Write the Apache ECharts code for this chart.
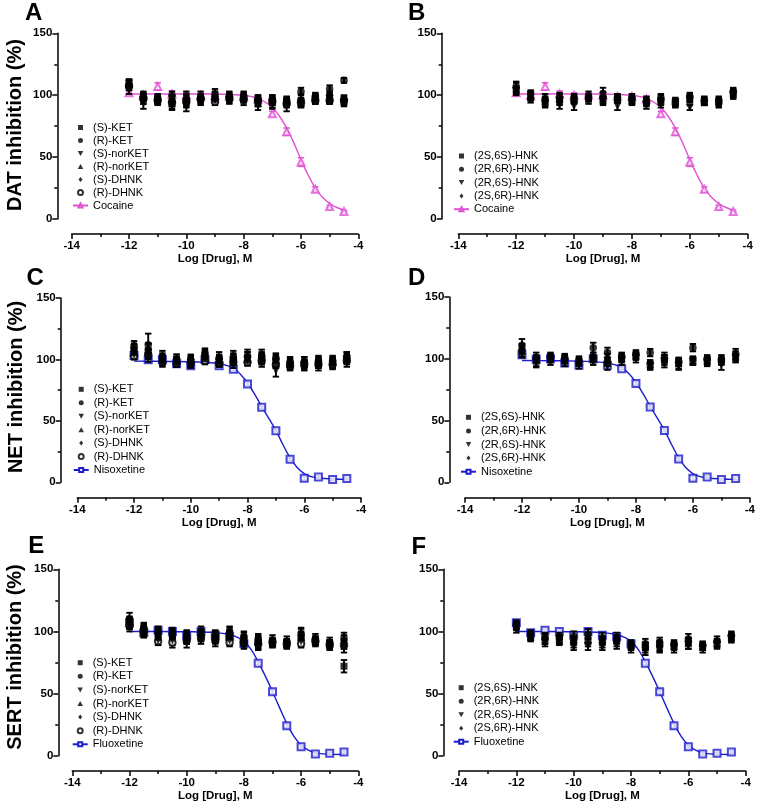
<!DOCTYPE html>
<html><head><meta charset="utf-8">
<script src="https://cdn.jsdelivr.net/npm/echarts@6/dist/echarts.min.js"></script>
<style>html,body{margin:0;padding:0;background:#fff}#c{width:758px;height:803px}</style>
</head><body><div id="c"></div>
<script>
// ---------- data ----------
const logDose = [-12, -11.5, -11, -10.5, -10, -9.5, -9, -8.5, -8, -7.5, -7, -6.5, -6, -5.5, -5, -4.5];
const ketNames = ['(S)-KET', '(R)-KET', '(S)-norKET', '(R)-norKET', '(S)-DHNK', '(R)-DHNK'];
const hnkNames = ['(2S,6S)-HNK', '(2R,6R)-HNK', '(2R,6S)-HNK', '(2S,6R)-HNK'];
const yTitles = ['DAT inhibition (%)', 'NET inhibition (%)', 'SERT inhibition (%)'];
const panelLetters = ['A', 'B', 'C', 'D', 'E', 'F'];

// DAT - ketamine metabolites (A)
const datKet = [
  [110, 97, 95, 93, 96, 97, 97, 98, 97, 95, 94, 94, 93, 96, 96, 95],
  [108, 99, 97, 100, 94, 98, 101, 99, 99, 97, 97, 95, 103, 98, 105, 112],
  [104, 93, 96, 92, 91, 95, 96, 96, 96, 92, 93, 93, 94, 97, 97, 94],
  [110, 100, 98, 97, 100, 100, 99, 100, 98, 94, 96, 95, 98, 98, 98, 97],
  [109, 96, 97, 95, 97, 96, 97, 97, 100, 97, 97, 94, 95, 99, 100, 97],
  [107, 98, 96, 94, 95, 97, 95, 98, 97, 96, 95, 93, 94, 96, 96, 96]
];
const datKetErr = [
  [3, 4, 3, 4, 5, 3, 3, 3, 3, 4, 4, 3, 3, 3, 3, 3],
  [4, 3, 3, 3, 4, 3, 4, 3, 3, 3, 3, 3, 3, 3, 3, 2],
  [3, 4, 3, 4, 4, 3, 3, 3, 4, 4, 4, 6, 3, 3, 3, 3],
  [2, 3, 3, 3, 3, 3, 4, 3, 3, 3, 3, 3, 3, 3, 3, 3],
  [3, 3, 2, 4, 3, 3, 3, 3, 3, 3, 3, 3, 3, 3, 3, 2],
  [3, 3, 3, 3, 3, 2, 3, 3, 3, 3, 3, 3, 3, 3, 3, 3]
];
// DAT - HNKs (B)
const datHnk = [
  [104, 99, 94, 95, 97, 97, 96, 97, 95, 94, 95, 94, 97, 94, 95, 101],
  [107, 97, 96, 98, 96, 98, 99, 98, 97, 95, 98, 93, 99, 95, 94, 103],
  [103, 100, 93, 92, 91, 96, 95, 91, 96, 92, 93, 94, 90, 95, 93, 100],
  [106, 101, 98, 99, 98, 100, 102, 98, 98, 96, 97, 95, 98, 96, 96, 102]
];
const datHnkErr = [
  [3, 3, 3, 3, 3, 2, 3, 3, 3, 3, 3, 3, 3, 2, 3, 3],
  [4, 3, 3, 3, 3, 3, 4, 3, 3, 3, 3, 3, 3, 3, 3, 3],
  [3, 3, 3, 3, 3, 3, 3, 3, 3, 3, 3, 3, 2, 3, 3, 3],
  [4, 3, 3, 3, 3, 3, 4, 3, 3, 3, 3, 3, 3, 3, 3, 3]
];
// NET - ketamine metabolites (C)
const netKet = [
  [108, 107, 100, 98, 98, 104, 99, 100, 101, 101, 99, 96, 96, 97, 97, 101],
  [111, 112, 102, 100, 99, 102, 101, 102, 103, 103, 101, 97, 98, 99, 99, 102],
  [104, 103, 98, 98, 97, 101, 98, 97, 99, 98, 91, 95, 95, 95, 96, 98],
  [106, 105, 99, 99, 98, 101, 98, 99, 100, 100, 97, 96, 97, 97, 98, 100],
  [109, 108, 101, 100, 100, 105, 100, 101, 102, 102, 100, 98, 98, 98, 98, 103],
  [103, 104, 98, 97, 97, 99, 97, 98, 98, 99, 96, 95, 96, 96, 96, 99]
];
const netKetErr = [
  [4, 6, 4, 4, 4, 4, 4, 4, 5, 4, 4, 4, 4, 4, 4, 4],
  [4, 9, 5, 4, 5, 5, 5, 5, 5, 5, 4, 4, 4, 4, 4, 4],
  [4, 5, 4, 4, 4, 4, 4, 4, 4, 4, 5, 4, 4, 4, 4, 4],
  [3, 4, 3, 3, 3, 4, 3, 3, 3, 4, 4, 3, 3, 3, 3, 3],
  [4, 5, 4, 4, 3, 4, 4, 4, 4, 4, 4, 4, 4, 4, 4, 3],
  [3, 4, 3, 3, 3, 3, 3, 3, 3, 3, 3, 3, 3, 3, 3, 3]
];
// NET - HNKs (D)
const netHnk = [
  [106, 98, 100, 99, 97, 100, 97, 100, 102, 95, 99, 96, 98, 98, 98, 101],
  [111, 101, 102, 101, 99, 109, 105, 102, 104, 105, 101, 98, 109, 100, 99, 104],
  [104, 97, 98, 97, 95, 98, 94, 98, 100, 94, 96, 94, 98, 97, 95, 100],
  [108, 100, 101, 100, 98, 102, 101, 101, 103, 96, 100, 97, 99, 99, 100, 103]
];
const netHnkErr = [
  [4, 4, 3, 3, 3, 3, 3, 3, 3, 3, 4, 4, 3, 3, 3, 3],
  [5, 4, 3, 3, 3, 4, 4, 3, 3, 3, 4, 3, 3, 3, 3, 4],
  [3, 4, 3, 3, 3, 3, 3, 3, 3, 3, 3, 3, 3, 3, 4, 3],
  [4, 3, 3, 3, 3, 3, 3, 3, 3, 3, 3, 3, 3, 3, 3, 3]
];
// SERT - ketamine metabolites (E)
const sertKet = [
  [108, 101, 99, 97, 95, 98, 95, 96, 93, 91, 91, 90, 95, 93, 90, 72],
  [110, 103, 100, 99, 97, 100, 97, 100, 96, 94, 93, 92, 98, 94, 91, 95],
  [104, 99, 93, 93, 91, 94, 92, 93, 90, 89, 90, 89, 92, 91, 88, 88],
  [106, 100, 96, 96, 94, 96, 94, 97, 92, 92, 91, 91, 96, 92, 90, 90],
  [107, 102, 98, 98, 96, 97, 96, 98, 95, 93, 92, 90, 97, 93, 90, 93],
  [105, 100, 92, 91, 93, 95, 93, 91, 91, 90, 91, 90, 90, 92, 89, 89]
];
const sertKetErr = [
  [4, 4, 4, 4, 4, 4, 4, 4, 4, 4, 3, 3, 4, 3, 3, 5],
  [5, 4, 4, 4, 4, 4, 4, 4, 4, 4, 4, 4, 5, 4, 4, 4],
  [4, 4, 4, 4, 4, 4, 4, 4, 4, 4, 3, 3, 4, 3, 3, 5],
  [4, 4, 3, 4, 4, 4, 3, 4, 4, 4, 3, 3, 4, 3, 3, 4],
  [4, 4, 4, 4, 4, 4, 4, 5, 4, 4, 3, 3, 5, 3, 3, 4],
  [3, 4, 3, 4, 3, 3, 3, 3, 3, 4, 3, 3, 3, 3, 3, 3]
];
// SERT - HNKs (F)
const sertHnk = [
  [104, 95, 93, 92, 91, 92, 91, 92, 88, 87, 89, 88, 90, 88, 90, 95],
  [106, 98, 96, 96, 96, 98, 95, 95, 90, 90, 91, 90, 94, 89, 92, 97],
  [102, 96, 91, 93, 88, 88, 88, 89, 86, 84, 86, 86, 89, 86, 89, 94],
  [105, 97, 94, 94, 93, 95, 93, 94, 89, 88, 88, 89, 92, 88, 91, 96]
];
const sertHnkErr = [
  [3, 3, 3, 3, 4, 4, 4, 4, 3, 4, 4, 3, 4, 3, 3, 3],
  [3, 3, 3, 3, 4, 4, 4, 4, 3, 4, 4, 3, 4, 3, 4, 3],
  [3, 3, 3, 3, 3, 3, 3, 3, 3, 3, 3, 3, 3, 3, 3, 3],
  [3, 3, 4, 3, 3, 4, 3, 3, 3, 3, 4, 3, 3, 3, 3, 3]
];

// reference compounds (measured points)
const cocaine = [102, 100, 107, 101, 100, 100, 100, 99, 99, 97, 85, 70.5, 46, 24, 10, 6];
const cocaineErr = [2, 2, 3, 2.5, 2, 2, 2, 2, 2, 2, 2, 3, 3.5, 2, 1, 1];
const nisoxetine = [103.3, 99.7, 100, 96.5, 94.8, 100, 94.8, 92, 80, 61, 42, 18.8, 3.3, 4.3, 2.2, 3];
const nisoxetineErr = [1.5, 1, 1, 1, 1.5, 1, 1, 1, 1.5, 1, 1, 1, 1.5, 1, 1, 1];
const fluoxetine = [107, 99, 101, 100, 97, 100, 97, 96, 90, 74.3, 51.5, 24.1, 7.2, 1.3, 1.9, 3];
const fluoxetineErr = [1.5, 1, 1, 1, 1, 1, 1, 1, 1, 1, 1.5, 1.5, 1, 1, 1, 1];

// fitted curves
const cocaineCurveX = [-12, -11, -10, -9, -8.5, -8, -7.75, -7.5, -7.25, -7, -6.75, -6.5, -6.25, -6, -5.75, -5.5, -5.25, -5, -4.75, -4.5];
const cocaineCurveY = [101, 101, 101, 101, 100.5, 100, 99, 97.5, 94.5, 90, 83, 73.5, 61.5, 48, 35.5, 25, 17.5, 12.5, 9.3, 7.3];
const nisoxetineCurveX = [-12, -11, -10, -9.5, -9, -8.75, -8.5, -8.25, -8, -7.75, -7.5, -7.25, -7, -6.75, -6.5, -6.25, -6, -5.75, -5.5, -5, -4.5];
const nisoxetineCurveY = [98.6, 98.4, 98.1, 97.6, 96.6, 95.2, 93, 88, 80.8, 71.8, 61.6, 52, 42.3, 30.6, 20, 12, 7, 4.6, 3.5, 2.7, 2.4];
const fluoxetineCurveX = [-12, -11, -10, -9, -8.5, -8.25, -8, -7.75, -7.5, -7.25, -7, -6.75, -6.5, -6.25, -6, -5.75, -5.5, -5.25, -5, -4.5];
const fluoxetineCurveY = [100, 100, 99.8, 99, 97.5, 95.5, 92, 85.5, 75.5, 64, 51.5, 38.5, 26, 15.5, 8.5, 4.5, 2.3, 1.5, 1.1, 1.0];

// ---------- styling / layout ----------
const FONT = 'Liberation Sans, Arial, Helvetica, sans-serif';
const PINK = '#E052D4';
const BLUE = '#1C1CCB';
const ketStyles = [
  {symbol: 'rect', size: 7, icon: 'path://M0,0H10V10H0Z'},
  {symbol: 'circle', size: 7.5, icon: 'circle'},
  {symbol: 'triangle', size: 8, rotate: 180, icon: 'path://M0,0H10L5,9Z'},
  {symbol: 'triangle', size: 8, icon: 'path://M5,0L10,9H0Z'},
  {symbol: 'diamond', size: 8, icon: 'path://M5,0L9,5L5,10L1,5Z'},
  {symbol: 'emptyCircle', size: 6.5, icon: 'emptyCircle'}
];
const hnkStyles = [ketStyles[0], ketStyles[1], ketStyles[2], ketStyles[4]];

const layout = [
  {left: 71.7, top: 33.3, width: 286.6, height: 185.7, yOff: 14.4, xOff: 15, legLeft: 72, legTop: 122, legGap: 2},
  {left: 458.3, top: 33.3, width: 289.4, height: 185.7, yOff: 16.6, xOff: 15, legLeft: 453, legTop: 150.5, legGap: 2.3},
  {left: 77.3, top: 298, width: 283.7, height: 184.3, yOff: 16.6, xOff: 15.4, legLeft: 72.7, legTop: 383.8, legGap: 2.45},
  {left: 465, top: 297, width: 286, height: 185.3, yOff: 15.7, xOff: 15.4, legLeft: 460, legTop: 411.8, legGap: 2.6},
  {left: 72.3, top: 569.3, width: 286, height: 186.4, yOff: 14, xOff: 15.3, legLeft: 71.7, legTop: 657.2, legGap: 2.6},
  {left: 459, top: 569.3, width: 286.7, height: 186.4, yOff: 15.7, xOff: 15.3, legLeft: 452.7, legTop: 682.2, legGap: 2.5}
];
const letterPos = [[25, 13.5], [408, 13.5], [26.5, 278.3], [408, 278.3], [28.3, 546.7], [411.5, 547.8]];
const yTitlePos = [[15.5, 125], [16.5, 387], [15.5, 657]];

const panels = [
  {names: ketNames, styles: ketStyles, vals: datKet, errs: datKetErr, ref: 'Cocaine', refVals: cocaine, refErr: cocaineErr, cx: cocaineCurveX, cy: cocaineCurveY, color: PINK, refSym: 'emptyTriangle'},
  {names: hnkNames, styles: hnkStyles, vals: datHnk, errs: datHnkErr, ref: 'Cocaine', refVals: cocaine, refErr: cocaineErr, cx: cocaineCurveX, cy: cocaineCurveY, color: PINK, refSym: 'emptyTriangle'},
  {names: ketNames, styles: ketStyles, vals: netKet, errs: netKetErr, ref: 'Nisoxetine', refVals: nisoxetine, refErr: nisoxetineErr, cx: nisoxetineCurveX, cy: nisoxetineCurveY, color: BLUE, refSym: 'emptyRect'},
  {names: hnkNames, styles: hnkStyles, vals: netHnk, errs: netHnkErr, ref: 'Nisoxetine', refVals: nisoxetine, refErr: nisoxetineErr, cx: nisoxetineCurveX, cy: nisoxetineCurveY, color: BLUE, refSym: 'emptyRect'},
  {names: ketNames, styles: ketStyles, vals: sertKet, errs: sertKetErr, ref: 'Fluoxetine', refVals: fluoxetine, refErr: fluoxetineErr, cx: fluoxetineCurveX, cy: fluoxetineCurveY, color: BLUE, refSym: 'emptyRect'},
  {names: hnkNames, styles: hnkStyles, vals: sertHnk, errs: sertHnkErr, ref: 'Fluoxetine', refVals: fluoxetine, refErr: fluoxetineErr, cx: fluoxetineCurveX, cy: fluoxetineCurveY, color: BLUE, refSym: 'emptyRect'}
];

function errorBars(idx, items, color, z, lw) {
  return {
    type: 'custom', xAxisIndex: idx, yAxisIndex: idx, z: z, silent: true,
    data: items,
    encode: {x: 0, y: 1},
    renderItem: function (params, api) {
      const x = api.value(0), y = api.value(1), e = api.value(2);
      const hi = api.coord([x, y + e]);
      const lo = api.coord([x, y - e]);
      const cw = 3.2;
      const st = {stroke: color, lineWidth: lw};
      return {type: 'group', children: [
        {type: 'line', shape: {x1: hi[0], y1: hi[1], x2: lo[0], y2: lo[1]}, style: st},
        {type: 'line', shape: {x1: hi[0] - cw, y1: hi[1], x2: hi[0] + cw, y2: hi[1]}, style: st},
        {type: 'line', shape: {x1: lo[0] - cw, y1: lo[1], x2: lo[0] + cw, y2: lo[1]}, style: st}
      ]};
    }
  };
}

const grids = [], xAxes = [], yAxes = [], series = [], legends = [], graphics = [];
const axisLineStyle = {color: '#000', width: 1.5};

panels.forEach(function (p, i) {
  const L = layout[i];
  grids.push({left: L.left, top: L.top, width: L.width, height: L.height, containLabel: false});
  xAxes.push({
    type: 'value', gridIndex: i, min: -14, max: -4, interval: 2, offset: L.xOff,
    axisLine: {show: true, onZero: false, lineStyle: axisLineStyle},
    axisTick: {show: true, length: 5, lineStyle: axisLineStyle},
    minorTick: {show: true, splitNumber: 2, length: 3, lineStyle: axisLineStyle},
    splitLine: {show: false},
    axisLabel: {color: '#000', fontFamily: FONT, fontSize: 11.5, fontWeight: 'bold', margin: 6},
    name: 'Log [Drug], M', nameLocation: 'middle', nameGap: 18,
    nameTextStyle: {color: '#000', fontFamily: FONT, fontSize: 11.5, fontWeight: 'bold'}
  });
  yAxes.push({
    type: 'value', gridIndex: i, min: 0, max: 150, interval: 50, offset: L.yOff,
    axisLine: {show: true, onZero: false, lineStyle: axisLineStyle},
    axisTick: {show: true, length: 5, lineStyle: axisLineStyle},
    minorTick: {show: true, splitNumber: 2, length: 3, lineStyle: axisLineStyle},
    splitLine: {show: false},
    axisLabel: {color: '#000', fontFamily: FONT, fontSize: 11.5, fontWeight: 'bold', margin: 5}
  });

  // reference compound: fitted curve, error bars, markers
  series.push({
    name: p.ref, type: 'line', xAxisIndex: i, yAxisIndex: i, z: 2, smooth: 0.4,
    symbol: p.refSym, showSymbol: false, silent: true,
    data: p.cx.map(function (x, k) { return [x, p.cy[k]]; }),
    lineStyle: {color: p.color, width: 1.4},
    itemStyle: {color: p.color, borderWidth: 1.5}
  });
  series.push(errorBars(i, logDose.map(function (x, k) { return [x, p.refVals[k], p.refErr[k]]; }), p.color, 3, 1.5));
  series.push({
    type: 'scatter', xAxisIndex: i, yAxisIndex: i, z: 3, silent: true,
    symbol: p.refSym, symbolSize: 7,
    data: logDose.map(function (x, k) { return [x, p.refVals[k]]; }),
    itemStyle: {color: p.color, borderColor: p.color, borderWidth: 1.6}
  });

  // test compounds (last data set drawn first so that filled symbols sit on top)
  const errItems = [];
  p.vals.forEach(function (row, s) {
    row.forEach(function (v, k) { errItems.push([logDose[k], v, p.errs[s][k]]); });
  });
  series.push(errorBars(i, errItems, '#000', 4, 1.9));
  p.vals.forEach(function (row, s) {
    const st = p.styles[s];
    series.push({
      name: p.names[s], type: 'scatter', xAxisIndex: i, yAxisIndex: i, z: 5 + (p.vals.length - s) * 0.01, silent: true,
      symbol: st.symbol, symbolSize: st.size, symbolRotate: st.rotate || 0,
      data: row.map(function (v, k) { return [logDose[k], v]; }),
      itemStyle: {color: '#000', borderColor: '#000', borderWidth: st.symbol.indexOf('empty') === 0 ? 1.7 : 0}
    });
  });

  legends.push({
    orient: 'vertical', left: L.legLeft, top: L.legTop, padding: 0,
    itemWidth: 15, itemHeight: 5, itemGap: L.legGap, selectedMode: false, symbolRotate: 0,
    data: p.names.map(function (n, s) { return {name: n, icon: p.styles[s].icon}; }).concat([{name: p.ref}]),
    textStyle: {color: '#000', fontFamily: FONT, fontSize: 11}
  });

  graphics.push({
    type: 'text', x: letterPos[i][0], y: letterPos[i][1], silent: true,
    style: {text: panelLetters[i], fill: '#000', font: 'bold 24px ' + FONT, textAlign: 'left', textVerticalAlign: 'middle'}
  });
});

yTitles.forEach(function (t, r) {
  graphics.push({
    type: 'text', x: yTitlePos[r][0], y: yTitlePos[r][1], rotation: Math.PI / 2, silent: true,
    style: {text: t, fill: '#000', font: 'bold 20px ' + FONT, textAlign: 'center', textVerticalAlign: 'middle'}
  });
});

const chart = echarts.init(document.getElementById('c'), null, {renderer: 'canvas'});
chart.setOption({
  animation: false,
  backgroundColor: '#fff',
  textStyle: {fontFamily: FONT},
  grid: grids, xAxis: xAxes, yAxis: yAxes,
  legend: legends, series: series, graphic: graphics
});
</script></body></html>
